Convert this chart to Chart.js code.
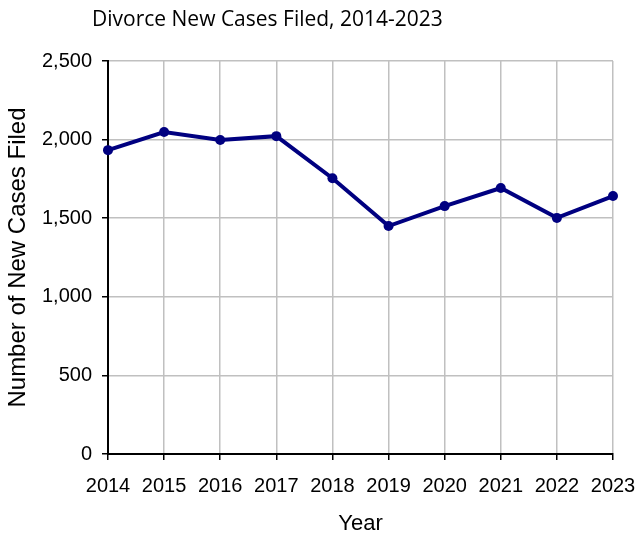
<!DOCTYPE html>
<html>
<head>
<meta charset="utf-8">
<script src="https://cdn.jsdelivr.net/npm/chart.js@4"></script>
<style>
  html, body { margin: 0; padding: 0; background: #fff; }
  #wrap { width: 637px; height: 535px; }
</style>
</head>
<body>
<div id="wrap"><canvas id="divorceChart" width="637" height="535"></canvas></div>
<script>
const years = ['2014', '2015', '2016', '2017', '2018', '2019', '2020', '2021', '2022', '2023'];
const newCases = [1933, 2048, 1997, 2022, 1754, 1450, 1577, 1692, 1502, 1641];
const yTicks = [0, 500, 1000, 1500, 2000, 2500];

const chartTitle = 'Divorce New Cases Filed, 2014-2023';

// title sits left of centre in the original, so draw it by hand
const titlePlugin = {
  id: 'leftTitle',
  afterDraw(chart) {
    const c = chart.ctx;
    c.save();
    c.font = '21px "Open Sans"';
    c.fillStyle = '#000';
    c.textBaseline = 'alphabetic';
    c.textAlign = 'left';
    c.fillText(chartTitle, 92, 26);
    c.restore();
  }
};

const ctx = document.getElementById('divorceChart');
new Chart(ctx, {
  type: 'line',
  data: {
    labels: years,
    datasets: [{
      data: newCases,
      borderColor: '#000080',
      backgroundColor: '#000080',
      borderWidth: 4,
      pointRadius: 5,
      pointBorderWidth: 0,
      tension: 0
    }]
  },
  options: {
    responsive: false,
    animation: false,
    layout: { padding: { top: 61, right: 24, left: 0, bottom: 0 } },
    plugins: { legend: { display: false }, tooltip: { enabled: false } },
    scales: {
      x: {
        offset: false,
        grid: { color: '#c0c0c0', lineWidth: 1.5, tickColor: '#000', tickLength: 6, tickWidth: 1.5 },
        border: { color: '#000', width: 2 },
        ticks: { color: '#000', font: { family: '"Liberation Sans", Arial', size: 20 }, padding: 14, maxRotation: 0, autoSkip: false },
        title: { display: true, text: 'Year', color: '#000', font: { family: '"Liberation Sans", Arial', size: 22, lineHeight: 1 }, padding: { top: 0, bottom: 0 } },
        afterFit(scale) {
          scale.height = 81;
          // tick padding would otherwise push the plot in from the right
          scale.paddingRight = 24;
          scale.paddingLeft = 0;
        }
      },
      y: {
        min: 0,
        max: 2500,
        afterBuildTicks(scale) { scale.ticks = yTicks.map(v => ({ value: v })); },
        grid: { color: '#c0c0c0', lineWidth: 1.5, tickColor: '#000', tickLength: 6, tickWidth: 1.5 },
        border: { color: '#000', width: 2 },
        ticks: {
          color: '#000',
          font: { family: '"Liberation Sans", Arial', size: 20 },
          padding: 10,
          callback: v => v.toLocaleString('en-US')
        },
        title: { display: true, text: 'Number of New Cases Filed', color: '#000', font: { family: '"Liberation Sans", Arial', size: 24, lineHeight: 1 }, padding: { top: 6, bottom: 0 } },
        afterFit(scale) { scale.width = 108; }
      }
    }
  },
  plugins: [titlePlugin]
});
</script>
</body>
</html>
